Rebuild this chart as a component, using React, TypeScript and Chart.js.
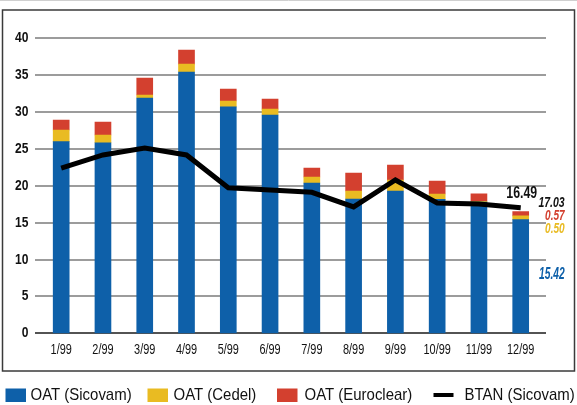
import React, { useEffect, useRef } from "react";
import { Chart, registerables } from "chart.js";

Chart.register(...registerables);

const categories = ["1/99", "2/99", "3/99", "4/99", "5/99", "6/99", "7/99", "8/99", "9/99", "10/99", "11/99", "12/99"];
const oatSicovam = [25.98, 25.84, 31.9, 35.43, 30.7, 29.6, 20.38, 18.21, 19.3, 18.17, 17.8, 15.42];
const oatCedel = [1.59, 1.05, 0.41, 1.07, 0.8, 0.8, 0.81, 1.09, 1.49, 0.72, 0.1, 0.5];
const oatEuroclear = [1.35, 1.76, 2.31, 1.9, 1.6, 1.37, 1.22, 2.44, 2.03, 1.76, 1.0, 0.57];
const btanSicovam = [22.41, 24.18, 25.12, 24.18, 19.74, 19.43, 19.12, 17.13, 20.79, 17.67, 17.53, 17.03];
const yTicks = [0, 5, 10, 15, 20, 25, 30, 35, 40];
const totalLabel = "16.49";
const sideLabels = ["17.03", "0.57", "0.50", "15.42"];

const BLUE = "#0e60a9";
const YELLOW = "#e9bb22";
const RED = "#d3402f";
const FONT = "'Liberation Sans', Arial, sans-serif";

function condText(ctx: any, text: string, x: number, y: number, align: string, font: string, color: string, sx: number) {
  ctx.save();
  ctx.translate(x, y);
  ctx.scale(sx, 1);
  ctx.font = font;
  ctx.fillStyle = color;
  ctx.textAlign = align;
  ctx.textBaseline = "middle";
  ctx.fillText(text, 0, 0);
  ctx.restore();
}

const framePlugin = {
  id: "frameAndGrid",
  beforeDraw(chart: any) {
    const ctx = chart.ctx;
    ctx.save();
    ctx.fillStyle = "#ffffff";
    ctx.fillRect(0, 0, chart.width, chart.height);
    ctx.strokeStyle = "#d0d0d0";
    ctx.lineWidth = 1;
    ctx.beginPath();
    ctx.moveTo(0, 0.5);
    ctx.lineTo(chart.width, 0.5);
    ctx.stroke();
    ctx.strokeStyle = "#3a3a3a";
    ctx.lineWidth = 1.5;
    ctx.strokeRect(2.5, 10, 572, 361);
    ctx.restore();
  },
  beforeDatasetsDraw(chart: any) {
    const ctx = chart.ctx;
    const y = chart.scales.y;
    const x = chart.scales.x;
    ctx.save();
    yTicks.forEach((v) => {
      const py = Math.round(y.getPixelForValue(v));
      ctx.beginPath();
      if (v === 0) {
        ctx.strokeStyle = "#1a1a1a";
        ctx.lineWidth = 1.6;
      } else {
        ctx.strokeStyle = "#9c9c9c";
        ctx.lineWidth = 2;
      }
      ctx.moveTo(35, py);
      ctx.lineTo(546, py);
      ctx.stroke();
      condText(ctx, String(v), 28.5, py, "right", `bold 14px ${FONT}`, "#111111", 0.86);
    });
    categories.forEach((c, i) => {
      condText(ctx, c, x.getPixelForValue(i), 350, "center", `14px ${FONT}`, "#111111", 0.78);
    });
    ctx.restore();
  },
  afterDraw(chart: any) {
    const ctx = chart.ctx;
    const x = chart.scales.x;
    const y = chart.scales.y;
    const last = categories.length - 1;
    const cx = x.getPixelForValue(last);
    const total = oatSicovam[last] + oatCedel[last] + oatEuroclear[last];
    condText(ctx, totalLabel, cx + 1, y.getPixelForValue(total) - 18, "center", `bold 16px ${FONT}`, "#111111", 0.77);
    const rx = cx + 44;
    condText(ctx, sideLabels[0], rx, 203, "right", `italic bold 14px ${FONT}`, "#111111", 0.75);
    condText(ctx, sideLabels[1], rx, 216, "right", `italic bold 14px ${FONT}`, RED, 0.72);
    condText(ctx, sideLabels[2], rx, 229, "right", `italic bold 14px ${FONT}`, YELLOW, 0.72);
    condText(ctx, sideLabels[3], rx, 275, "right", `italic bold 16px ${FONT}`, BLUE, 0.64);

    // legend
    const ly = 395;
    const items = [
      { color: BLUE, box: 5.5, text: 30.5, type: "box" },
      { color: YELLOW, box: 147.5, text: 173.5, type: "box" },
      { color: RED, box: 277, text: 304.5, type: "box" },
      { color: "#000000", box: 433.5, text: 464.5, type: "line" },
    ];
    ctx.save();
    items.forEach((it, i) => {
      ctx.fillStyle = it.color;
      if (it.type === "box") {
        ctx.fillRect(it.box, ly - 6.5, 20.5, 13.5);
      } else {
        ctx.fillRect(it.box, ly - 2, 20, 4);
      }
      condText(ctx, chart.data.datasets[i].label, it.text, ly + 0.5, "left", `17px ${FONT}`, "#111111", 0.88);
    });
    ctx.restore();
  },
};

export default function App() {
  const ref = useRef<HTMLCanvasElement | null>(null);
  useEffect(() => {
    if (!ref.current) return;
    const chart = new Chart(ref.current, {
      data: {
        labels: categories,
        datasets: [
          { type: "bar", label: "OAT (Sicovam)", data: oatSicovam, backgroundColor: BLUE, stack: "oat", order: 2, barThickness: 16 },
          { type: "bar", label: "OAT (Cedel)", data: oatCedel, backgroundColor: YELLOW, stack: "oat", order: 2, barThickness: 16 },
          { type: "bar", label: "OAT (Euroclear)", data: oatEuroclear, backgroundColor: RED, stack: "oat", order: 2, barThickness: 16 },
          {
            type: "line",
            label: "BTAN (Sicovam)",
            data: btanSicovam,
            borderColor: "#000000",
            borderWidth: 5,
            pointRadius: 0,
            tension: 0,
            order: 1,
          },
        ],
      } as any,
      options: {
        responsive: false,
        animation: false,
        layout: { padding: { left: 40.3, right: 35.4, top: 38.3, bottom: 71.7 } },
        plugins: { legend: { display: false }, tooltip: { enabled: false } },
        scales: {
          x: { stacked: true, display: false },
          y: { stacked: true, min: 0, max: 40, display: false },
        },
      },
      plugins: [framePlugin],
    } as any);
    return () => chart.destroy();
  }, []);
  return (
    <div style={{ position: "absolute", left: 0, top: 0, width: 577, height: 405 }}>
      <canvas ref={ref} width={577} height={405} style={{ display: "block" }} />
    </div>
  );
}
